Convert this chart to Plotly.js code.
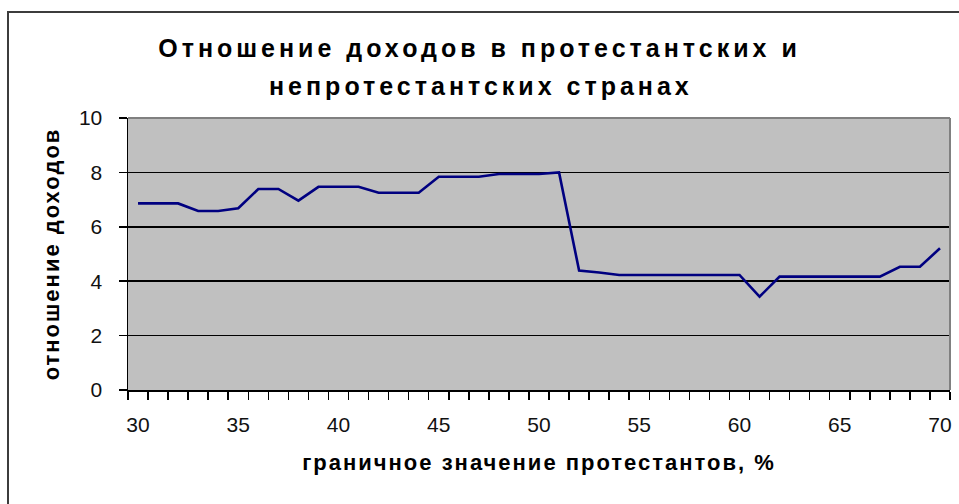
<!DOCTYPE html>
<html>
<head>
<meta charset="utf-8">
<script src="https://cdn.plot.ly/plotly-3.0.1.min.js"></script>
<style>
html, body { margin: 0; padding: 0; background: #fff; }
#chart { width: 959px; height: 504px; }
.xtitle, .ytitle { letter-spacing: 2px; }
.gtitle, .annotation-text { letter-spacing: 4px; }
</style>
</head>
<body>
<div id="chart"></div>
<script>
const titleLine1 = 'Отношение доходов в протестантских и';
const titleLine2 = 'непротестантских странах';
const xTitle = 'граничное значение протестантов, %';
const yTitle = 'отношение доходов';

const boundary = [30, 31, 32, 33, 34, 35, 36, 37, 38, 39,
                  40, 41, 42, 43, 44, 45, 46, 47, 48, 49,
                  50, 51, 52, 53, 54, 55, 56, 57, 58, 59,
                  60, 61, 62, 63, 64, 65, 66, 67, 68, 69, 70];
const ratio = [6.86, 6.86, 6.86, 6.58, 6.58, 6.68, 7.39, 7.39, 6.96, 7.47,
               7.47, 7.47, 7.25, 7.25, 7.25, 7.84, 7.84, 7.84, 7.94, 7.94,
               7.94, 8.00, 4.39, 4.32, 4.23, 4.23, 4.23, 4.23, 4.23, 4.23,
               4.23, 3.43, 4.17, 4.17, 4.17, 4.17, 4.17, 4.17, 4.53, 4.53, 5.21];
const xTickVals = [30, 35, 40, 45, 50, 55, 60, 65, 70];
const xTickText = ['30', '35', '40', '45', '50', '55', '60', '65', '70'];
const yTickVals = [0, 2, 4, 6, 8, 10];

const FONT = '"Liberation Sans", Arial, sans-serif';
const W = 959, H = 504;
const M = { l: 128, r: 9, t: 118, b: 114 };
const pw = W - M.l - M.r, ph = H - M.t - M.b;
const px = v => (v - M.l) / pw;
const py = v => (H - M.b - v) / ph;

const trace = {
  x: boundary,
  y: ratio,
  type: 'scatter',
  mode: 'lines',
  line: { color: '#000080', width: 2.6 },
  hoverinfo: 'x+y',
  showlegend: false
};

const layout = {
  width: W,
  height: H,
  margin: { l: M.l, r: M.r, t: M.t, b: M.b, autoexpand: false },
  paper_bgcolor: '#ffffff',
  plot_bgcolor: '#C0C0C0',
  font: { family: FONT, color: '#111', size: 21 },
  title: {
    text: titleLine1,
    font: { family: FONT, size: 25, weight: 'bold', color: '#000' },
    x: 0.5, xref: 'container', xanchor: 'center',
    y: 1 - 48 / H, yref: 'container', yanchor: 'middle'
  },
  annotations: [{
    text: titleLine2,
    xref: 'paper', yref: 'paper',
    x: px(481), y: py(86),
    xanchor: 'center', yanchor: 'middle',
    showarrow: false,
    font: { family: FONT, size: 25, weight: 'bold', color: '#000' }
  }],
  xaxis: {
    range: [29.5, 70.5],
    tickmode: 'array',
    tickvals: xTickVals,
    ticktext: xTickText,
    ticks: '',
    ticklabelstandoff: 15,
    tickfont: { family: FONT, size: 21, color: '#111' },
    showgrid: false,
    zeroline: false,
    showline: true,
    linecolor: '#000',
    linewidth: 1.5,
    minor: {
      tickmode: 'linear',
      tick0: 29.5,
      dtick: 1,
      ticks: 'outside',
      ticklen: 8,
      tickwidth: 1.5,
      tickcolor: '#000',
      showgrid: false
    },
    title: {
      text: xTitle,
      standoff: 20,
      font: { family: FONT, size: 22, weight: 'bold', color: '#000' }
    }
  },
  yaxis: {
    range: [0, 10],
    tickmode: 'array',
    tickvals: yTickVals,
    ticks: 'outside',
    ticklen: 8,
    tickwidth: 1.5,
    tickcolor: '#000',
    ticklabelstandoff: 12,
    tickfont: { family: FONT, size: 21, color: '#111' },
    showgrid: true,
    gridcolor: '#000',
    gridwidth: 1.5,
    zeroline: false,
    showline: true,
    linecolor: '#000',
    linewidth: 1.5,
    title: {
      text: yTitle,
      standoff: 13,
      font: { family: FONT, size: 22, weight: 'bold', color: '#000' }
    }
  },
  shapes: [
    { type: 'rect', xref: 'paper', yref: 'paper',
      x0: px(8), x1: px(965), y0: py(512), y1: py(12),
      line: { color: '#3c3c3c', width: 2 }, fillcolor: 'rgba(0,0,0,0)', layer: 'above' },
    { type: 'line', xref: 'paper', yref: 'paper', x0: 0, x1: 1, y0: 1, y1: 1,
      line: { color: '#808080', width: 2 }, layer: 'above' },
    { type: 'line', xref: 'paper', yref: 'paper', x0: 1, x1: 1, y0: 0, y1: 1,
      line: { color: '#808080', width: 2 }, layer: 'above' }
  ]
};

Plotly.newPlot('chart', [trace], layout, { staticPlot: true, displayModeBar: false });
</script>
</body>
</html>
